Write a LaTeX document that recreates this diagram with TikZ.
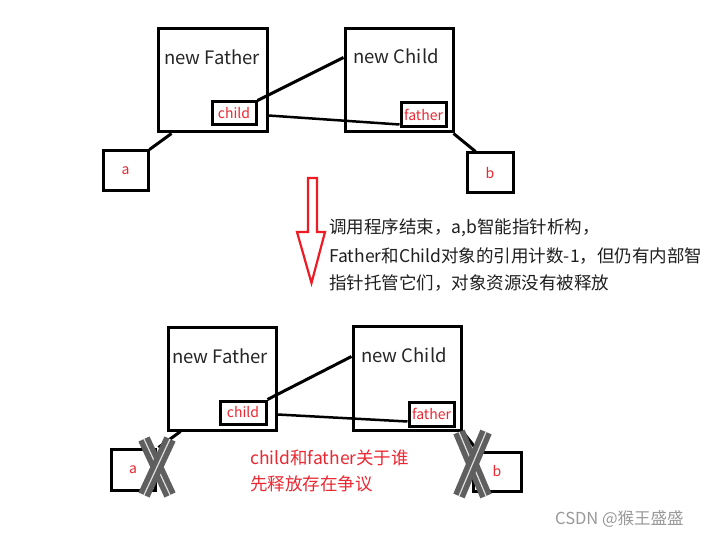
\documentclass[tikz,border=0pt]{standalone}
\usepackage{fontspec}
\setmainfont{Noto Sans CJK SC}
\definecolor{myred}{RGB}{235,40,50}
\definecolor{arrred}{RGB}{237,28,36}
\definecolor{xgray}{RGB}{95,95,95}
\begin{document}
\begin{tikzpicture}[x=1pt,y=-1pt,
  bigbox/.style={draw=black, line width=3pt, inner sep=0pt, minimum width=#1},
  smallbox/.style={draw=black, line width=3pt, inner sep=0pt},
  link/.style={draw=black, line width=3pt},
  title/.style={font=\fontsize{18.5}{20}\selectfont, text=black!85, inner sep=0pt},
  redlbl/.style={font=\fontsize{14}{15}\selectfont, text=myred, inner sep=0pt},
  xmark/.style={draw=xgray, line width=5.5pt, double=gray!25, double distance=1.2pt},
  note/.style={font=\fontsize{17.5}{27}\selectfont, text=black!88, inner sep=0pt, anchor=west}
]
\useasboundingbox (0,0) rectangle (707,537);
\fill[white] (0,0) rectangle (707,537);

% ---------- top ----------
\node[bigbox=109pt, minimum height=103pt] (F1) at (212.5,80.5) {};
\node[bigbox=108pt, minimum height=103pt] (C1) at (399,80.5) {};
\node[title] (F1t) at (212,57) {new Father};
\node[title] (C1t) at (396,56) {new Child};
\node[smallbox, minimum width=44pt, minimum height=23pt, redlbl] (c1) at (234,113.5) {child};
\node[smallbox, minimum width=45pt, minimum height=24pt, redlbl] (f1) at (423.5,115) {father};
\node[smallbox, minimum width=45pt, minimum height=40pt, redlbl] (a1) at (125.5,171) {a};
\node[smallbox, minimum width=46pt, minimum height=40pt, redlbl] (b1) at (490,173) {b};

\draw[link] (c1.north east) -- ([yshift=-30pt]C1.north west);
\draw[link, line width=2.5pt] ([yshift=-88pt]F1.north east) -- ([yshift=4pt]f1.south west);
\draw[link] ([xshift=15pt]F1.south west) -- (a1.north east);
\draw[link] ([xshift=-1pt]C1.south east) -- ([xshift=10pt]b1.north west);

% ---------- arrow ----------
\draw[arrred, line width=2.2pt, fill=white, line join=miter]
  (308,178) -- (317,178) -- (317,232) -- (325,232) -- (311.5,283) -- (297,232) -- (308,232) -- cycle;

\node[note] (n1) at (329,228) {调用程序结束，a,b智能指针析构，};
\node[note] (n2) at (329,256) {Father和Child对象的引用计数-1，但仍有内部智};
\node[note] (n3) at (329,283) {指针托管它们，对象资源没有被释放};

% ---------- bottom ----------
\node[bigbox=108pt, minimum height=102pt] (F2) at (222,379) {};
\node[bigbox=108pt, minimum height=103pt] (C2) at (407,378.5) {};
\node[title] (F2t) at (220,356) {new Father};
\node[title] (C2t) at (404,355) {new Child};
\node[smallbox, minimum width=46pt, minimum height=23pt, redlbl] (c2) at (243,412.5) {child};
\node[smallbox, minimum width=45pt, minimum height=24pt, redlbl] (f2) at (431.5,414) {father};
\node[smallbox, minimum width=44pt, minimum height=41pt, redlbl] (a2) at (133,469.5) {a};
\node[smallbox, minimum width=48pt, minimum height=39pt, redlbl] (b2) at (497,471.5) {b};

\draw[link] (c2.north east) -- ([yshift=-31pt]C2.north west);
\draw[link, line width=2.5pt] ([yshift=-88pt]F2.north east) -- ([yshift=6pt]f2.south west);
\draw[link] ([xshift=14pt]F2.south west) -- ([xshift=2pt]a2.north east);
\draw[link] (C2.south east) -- ([xshift=6pt]b2.north west);

% X marks
\coordinate (xa1) at (144,439); \coordinate (xa2) at (170,495);
\coordinate (xa3) at (170,439); \coordinate (xa4) at (144,495);
\draw[xmark] (xa1) -- (xa2);
\draw[xmark] (xa3) -- (xa4);
\coordinate (xb1) at (459,432); \coordinate (xb2) at (486,496);
\coordinate (xb3) at (486,432); \coordinate (xb4) at (459,496);
\draw[xmark] (xb1) -- (xb2);
\draw[xmark] (xb3) -- (xb4);

\node[note, text=myred] (r1) at (250,458) {child和father关于谁};
\node[note, text=myred] (r2) at (250,484) {先释放存在争议};

\node[font=\fontsize{16.5}{17}\selectfont, text=gray!80, anchor=west, inner sep=0pt] (wm) at (555,519) {CSDN @猴王盛盛};
\end{tikzpicture}
\end{document}
